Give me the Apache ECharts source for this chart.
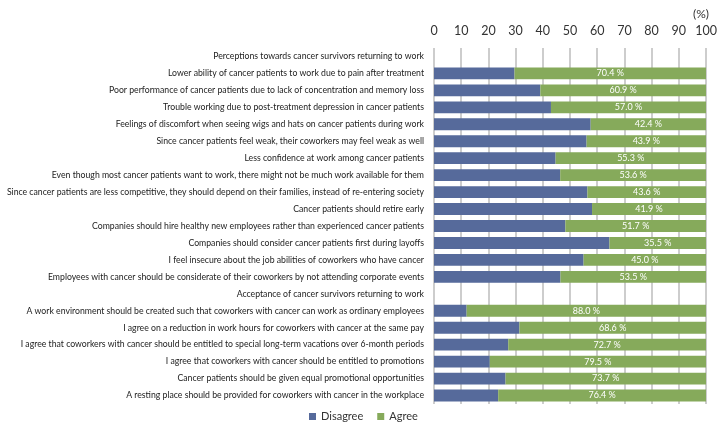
<!DOCTYPE html>
<html>
<head>
<meta charset="UTF-8">
<script src="https://cdn.jsdelivr.net/npm/echarts@6/dist/echarts.min.js"></script>
<style>
  html, body { margin: 0; padding: 0; background: #fff; }
  #main { width: 720px; height: 430px; }
</style>
<title>Perceptions</title>
</head>
<body>
<div id="main"></div>
<script type="text/javascript">
// rows from top to bottom; the two section headers carry no bars
var categories = [
  'Perceptions towards cancer survivors returning to work',
  'Lower ability of cancer patients to work due to pain after treatment',
  'Poor performance of cancer patients due to lack of concentration and memory loss',
  'Trouble working due to post-treatment depression in cancer patients',
  'Feelings of discomfort when seeing wigs and hats on cancer patients during work',
  'Since cancer patients feel weak, their coworkers may feel weak as well',
  'Less confidence at work among cancer patients',
  'Even though most cancer patients want to work, there might not be much work available for them',
  'Since cancer patients are less competitive, they should depend on their families, instead of re-entering society',
  'Cancer patients should retire early',
  'Companies should hire healthy new employees rather than experienced cancer patients',
  'Companies should consider cancer patients first during layoffs',
  'I feel insecure about the job abilities of coworkers who have cancer',
  'Employees with cancer should be considerate of their coworkers by not attending corporate events',
  'Acceptance of cancer survivors returning to work',
  'A work environment should be created such that coworkers with cancer can work as ordinary employees',
  'I agree on a reduction in work hours for coworkers with cancer at the same pay',
  'I agree that coworkers with cancer should be entitled to special long-term vacations over 6-month periods',
  'I agree that coworkers with cancer should be entitled to promotions',
  'Cancer patients should be given equal promotional opportunities',
  'A resting place should be provided for coworkers with cancer in the workplace'
];
var agree = [null, 70.4, 60.9, 57.0, 42.4, 43.9, 55.3, 53.6, 43.6, 41.9, 51.7, 35.5, 45.0, 53.5,
             null, 88.0, 68.6, 72.7, 79.5, 73.7, 76.4];
var disagree = [null, 29.6, 39.1, 43.0, 57.6, 56.1, 44.7, 46.4, 56.4, 58.1, 48.3, 64.5, 55.0, 46.5,
                null, 12.0, 31.4, 27.3, 20.5, 26.3, 23.6];
var ticks = [0, 10, 20, 30, 40, 50, 60, 70, 80, 90, 100];

var font = 'Lato, Roboto, "Liberation Sans", sans-serif';
var chart = echarts.init(document.getElementById('main'));
var option = {
  animation: false,
  textStyle: { fontFamily: font },
  grid: { left: 434, right: 14, top: 48, bottom: 26, containLabel: false, outerBoundsMode: 'none' },
  legend: {
    data: ['Disagree', 'Agree'],
    bottom: 3,
    left: 304,
    itemWidth: 7,
    itemHeight: 7,
    itemGap: 14,
    icon: 'rect',
    textStyle: { fontFamily: font, fontSize: 11, color: '#333' }
  },
  xAxis: {
    type: 'value',
    position: 'top',
    min: ticks[0],
    max: ticks[ticks.length - 1],
    interval: 10,
    name: '(%)',
    nameLocation: 'end',
    nameGap: 0,
    nameTextStyle: { fontFamily: font, fontSize: 12, color: '#333', align: 'center', verticalAlign: 'bottom', padding: [0, 10, 28, 0] },
    axisLine: { show: false },
    axisTick: { show: false },
    axisLabel: { fontFamily: font, fontSize: 12.5, color: '#333', margin: 11 },
    splitLine: { show: true, lineStyle: { color: '#bdbdbd', width: 1.5 } }
  },
  yAxis: {
    type: 'category',
    data: categories,
    inverse: true,
    axisLine: { show: false },
    axisTick: { show: false },
    axisLabel: { fontFamily: font, fontSize: 8.7, color: '#222', margin: 10, interval: 0, overflow: 'none' }
  },
  series: [
    {
      name: 'Disagree',
      type: 'bar',
      stack: 'total',
      barWidth: '70%',
      itemStyle: { color: '#566a9b' },
      data: disagree
    },
    {
      name: 'Agree',
      type: 'bar',
      stack: 'total',
      barWidth: '70%',
      itemStyle: { color: '#86aa5b' },
      label: {
        show: true,
        position: 'inside',
        color: '#fff',
        fontFamily: font,
        fontSize: 9,
        formatter: function (p) { return p.value.toFixed(1) + ' %'; }
      },
      data: agree
    }
  ]
};
chart.setOption(option);
</script>
</body>
</html>
